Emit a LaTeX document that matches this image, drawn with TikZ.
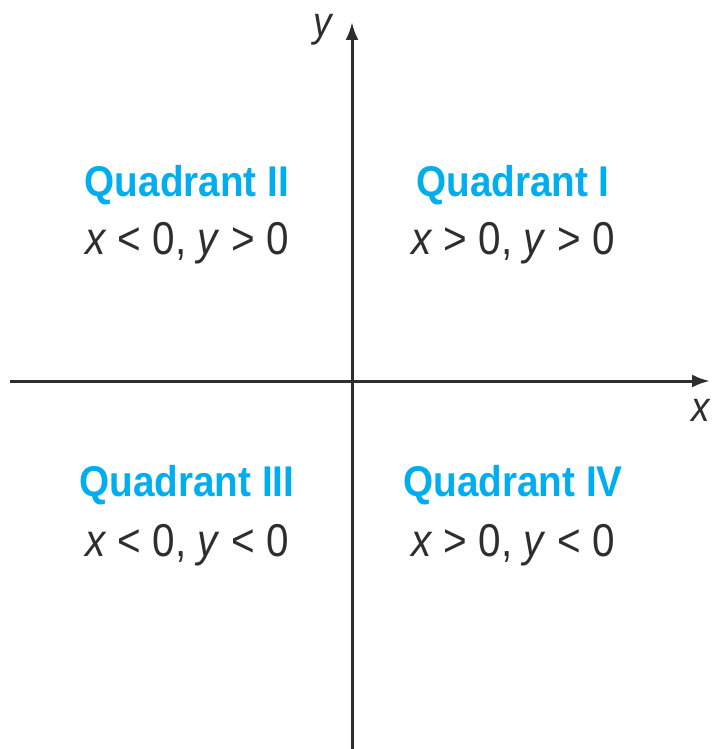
\documentclass[tikz,border=0pt]{standalone}
\usepackage{fontspec}
\setmainfont{Liberation Sans}
\newfontfamily\condbold[FakeStretch=0.9]{Liberation Sans}
\newfontfamily\condreg[FakeStretch=0.88]{Liberation Sans}
\usetikzlibrary{arrows.meta}
\definecolor{qblue}{HTML}{00AEEF}
\definecolor{axgray}{HTML}{2E2E2E}
\begin{document}
\begin{tikzpicture}[x=1pt,y=-1pt,
  axis/.style={draw=axgray,line width=3pt,-{Latex[length=18pt,width=13pt]}},
  qtitle/.style={text=qblue,font=\condbold\bfseries\fontsize{43}{46}\selectfont,inner sep=0pt},
  qcond/.style={text=axgray,font=\condreg\fontsize{46}{48}\selectfont,inner sep=0pt},
  alabel/.style={text=axgray,font=\condreg\itshape\fontsize{42}{46}\selectfont,inner sep=0pt}]
\useasboundingbox (0,0) rectangle (713,749);
\coordinate (ybot) at (352,749);
\coordinate (ytop) at (352,22);
\coordinate (xleft) at (10,381);
\coordinate (xright) at (710,381);
\draw[axis] (ybot) -- (ytop);
\draw[axis] (xleft) -- (xright);
\node[alabel] (ylab) at (323,30) {y};
\node[alabel] (xlab) at (701,410) {x};
\node[qtitle] (q2) at (187,185) {Quadrant II};
\node[qcond] (c2) at (187,243) {\textit{x} < 0, \textit{y} > 0};
\node[qtitle] (q1) at (513,185) {Quadrant I};
\node[qcond] (c1) at (513,243) {\textit{x} > 0, \textit{y} > 0};
\node[qtitle] (q3) at (187,485) {Quadrant III};
\node[qcond] (c3) at (187,545) {\textit{x} < 0, \textit{y} < 0};
\node[qtitle] (q4) at (513,485) {Quadrant IV};
\node[qcond] (c4) at (513,545) {\textit{x} > 0, \textit{y} < 0};
\end{tikzpicture}
\end{document}
